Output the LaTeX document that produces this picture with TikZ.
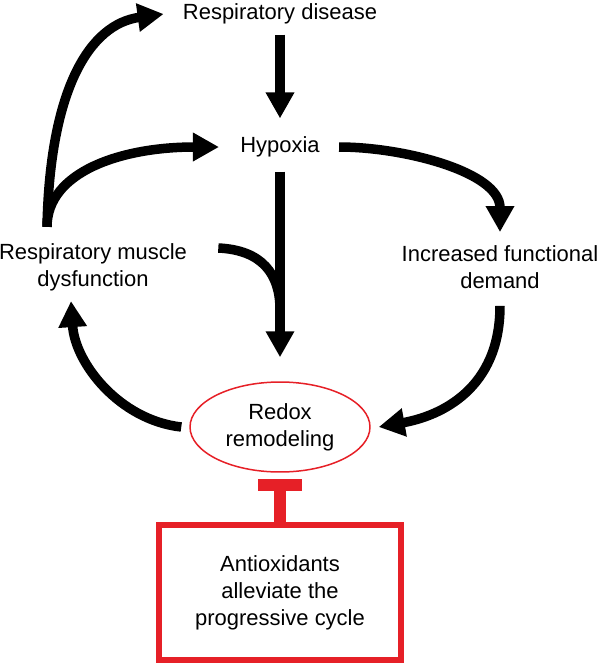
\documentclass[tikz,border=0pt]{standalone}
\usepackage{fontspec}
\setmainfont{Liberation Sans}
\usetikzlibrary{arrows.meta,shapes.geometric,calc}
\definecolor{cyclered}{RGB}{230,32,39}
\begin{document}
\begin{tikzpicture}[x=0.02cm,y=-0.02cm,
 lbl/.style={align=center,inner sep=0pt,font=\fontsize{12.5}{15.4}\selectfont},
 arr/.style={line width=0.19cm,-{Triangle[length=0.52cm,width=0.54cm]}},
 inhib/.style={cyclered,line width=0.24cm,-{Bar[width=0.88cm]}}]
 \useasboundingbox (0,0) rectangle (600,667);
 \node[lbl] (disease) at (280,14) {Respiratory disease};
 \node[lbl] (hypoxia) at (280,147) {Hypoxia};
 \node[lbl] (muscle) at (93,267) {Respiratory muscle\\dysfunction};
 \node[lbl] (demand) at (500,267) {Increased functional\\demand};
 \node[lbl,ellipse,draw=cyclered,line width=0.03cm,minimum width=3.6cm,minimum height=1.8cm] (redox) at (280,427) {Redox\\remodeling};
 \node[lbl,draw=cyclered,line width=0.12cm,minimum width=4.86cm,minimum height=2.7cm] (antiox) at (280,592.5) {Antioxidants\\alleviate the\\progressive cycle};
 \coordinate (merge) at ($(hypoxia)!0.58!(redox)$);
 \coordinate (fork) at ([xshift=-0.92cm,yshift=0.32cm]muscle.north);
 \draw[arr,shorten <=0.2cm,shorten >=0.36cm] (disease.south) -- (hypoxia.north);
 \draw[arr,shorten <=0.28cm,shorten >=0.48cm] (hypoxia.south) -- (redox.north);
 \draw[line width=0.19cm] ([xshift=0.62cm,yshift=0.38cm]muscle.east) .. controls +(44,2) and +(0,-35) .. (merge);
 \draw[arr] ([xshift=0.38cm]hypoxia.east) .. controls +(65,0) and +(0,-60) .. ([yshift=0.26cm]demand.north);
 \draw[arr] ([yshift=-0.34cm]demand.south) .. controls +(0,83) and +(62,-11) .. ([xshift=0.16cm]redox.east);
 \draw[arr] ([xshift=-0.16cm]redox.west) .. controls +(-62,-7) and +(4,62) .. ([xshift=-0.44cm,yshift=-0.2cm]muscle.south);
 \draw[arr] (fork) .. controls +(0,-55) and +(-98,0) .. ([xshift=-0.42cm]hypoxia.west);
 \draw[arr] (fork) .. controls +(3,-140) and +(-73,10) .. ([xshift=-0.38cm]disease.west);
 \draw[inhib,shorten >=0.12cm] (antiox.north) -- (redox.south);
\end{tikzpicture}
\end{document}
